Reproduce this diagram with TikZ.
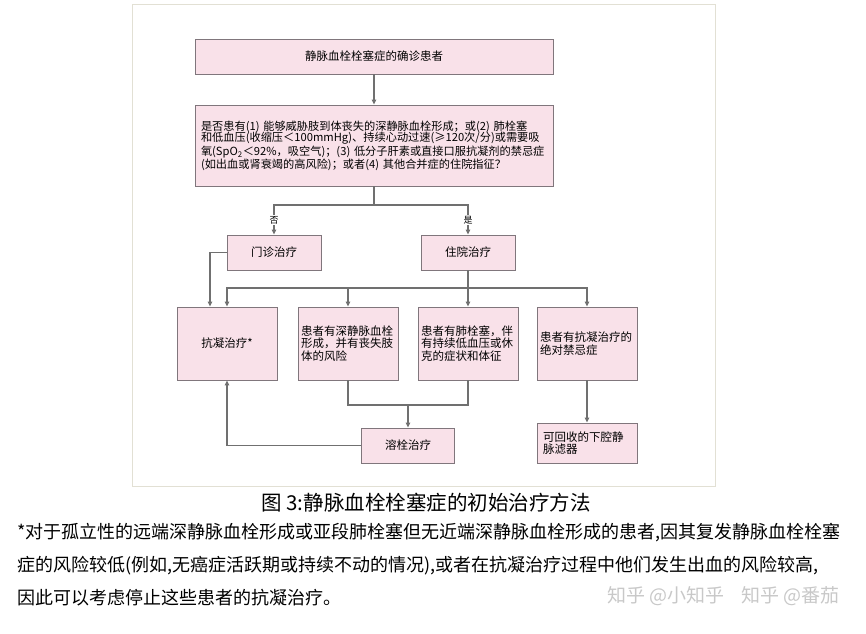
\documentclass[tikz,border=0pt]{standalone}
\usepackage{fontspec}
\setmainfont{Noto Sans CJK SC}
\usetikzlibrary{arrows.meta}
\setlength{\lineskiplimit}{-20pt}
\definecolor{boxfill}{RGB}{249,225,233}
\definecolor{boxline}{RGB}{128,118,124}
\definecolor{linegray}{RGB}{112,112,112}
\definecolor{framegray}{RGB}{226,224,212}
\definecolor{markgray}{RGB}{200,200,200}
\begin{document}
\begin{tikzpicture}[x=1bp, y=-1bp,
  box/.style={draw=boxline, fill=boxfill, line width=0.9bp, inner sep=3bp,
    font=\fontsize{11.5bp}{12.6bp}\selectfont},
  small/.style={box, minimum width=94bp, minimum height=35bp},
  tall/.style={box, text width=94bp, align=left, minimum height=73bp},
  arr/.style={draw=linegray, line width=1.1bp, -{Triangle[length=5bp,width=4.5bp]}},
  line/.style={draw=linegray, line width=1.1bp},
  lab/.style={fill=white, inner sep=1bp, font=\fontsize{9bp}{9bp}\selectfont}]
\useasboundingbox (0,0) rectangle (866,634);
\draw[framegray, fill=white, line width=0.8bp] (132,4) rectangle (715,486);

% nodes
\node[box, minimum width=358bp, minimum height=35bp] (VTE) at (374,56.5) {静脉血栓栓塞症的确诊患者};
\node[box, minimum width=358bp, minimum height=81bp, text width=346bp, inner xsep=6bp,
  align=left, font=\fontsize{11.2bp}{11.7bp}\selectfont] (Q) at (374,145.5)
  {是否患有(1) 能够威胁肢到体丧失的深静脉血栓形成；或(2) 肺栓塞\\
   和低血压(收缩压＜100mmHg)、持续心动过速(≥120次/分)或需要吸\\
   氧(SpO\textsubscript{2}＜92\%，吸空气)；(3) 低分子肝素或直接口服抗凝剂的禁忌症\\
   (如出血或肾衰竭的高风险)；或者(4) 其他合并症的住院指征？};
\node[small] (OP) at (274,252.5) {门诊治疗};
\node[small] (IP) at (468,252.5) {住院治疗};
\node[box, minimum width=100bp, minimum height=73bp] (AC) at (227,343.5) {抗凝治疗*};
\node[tall] (DVT) at (348,343.5) {患者有深静脉血栓\\形成，并有丧失肢\\体的风险};
\node[tall] (PE) at (468,343.5) {患者有肺栓塞，伴\\有持续低血压或休\\克的症状和体征};
\node[tall] (CI) at (587,343.5) {患者有抗凝治疗的\\绝对禁忌症};
\node[small, minimum width=93bp] (TL) at (408,445.5) {溶栓治疗};
\node[box, text width=88bp, inner xsep=6bp, align=left, minimum height=40bp] (IVC) at (587,443)
  {可回收的下腔静\\脉滤器};
\coordinate (S) at (374,205);
\coordinate (B) at (468,288);
\coordinate (J) at (408,405);

% arrows
\draw[arr] (VTE) -- (Q);
\draw[line] (Q.south) -- (S);
\draw[line, to path={-| (\tikztotarget)}]
  (S) edge[arr] (OP)
  (S) edge[arr] (IP);
\node[lab] (no) at (274,220) {否};
\node[lab] (yes) at (468,220) {是};
\draw[arr] (OP.west) -| ([xshift=-17bp]AC.north);
\draw[line] (IP.south) -- (B);
\draw[line, to path={-| (\tikztotarget)}]
  (B) edge[arr] (AC)
  (B) edge[arr] (DVT)
  (B) edge[arr] (PE)
  (B) edge[arr] (CI);
\draw[line] (DVT.south) |- (J) -| (PE.south);
\draw[arr] (J) -- (TL);
\draw[arr] (TL.west) -| (AC.south);
\draw[arr] (CI) -- (IVC);

% caption and note
\node[anchor=base, font=\fontsize{20.5bp}{22bp}\selectfont] (cap) at (426,510)
  {图 3:静脉血栓栓塞症的初始治疗方法};
\node[anchor=base west, align=left, inner sep=0pt, font=\fontsize{18bp}{33bp}\selectfont] (note) at (17,604)
  {*对于孤立性的远端深静脉血栓形成或亚段肺栓塞但无近端深静脉血栓形成的患者,因其复发静脉血栓栓塞\\
   症的风险较低(例如,无癌症活跃期或持续不动的情况),或者在抗凝治疗过程中他们发生出血的风险较高,\\
   因此可以考虑停止这些患者的抗凝治疗。};
\node[anchor=base west, text=markgray, inner sep=0pt, font=\fontsize{19bp}{20bp}\selectfont] (markA) at (607,602)
  {知乎 @小知乎};
\node[anchor=base east, text=markgray, inner sep=0pt, font=\fontsize{19bp}{20bp}\selectfont] (markB) at (840,602)
  {知乎 @番茄};
\end{tikzpicture}
\end{document}
